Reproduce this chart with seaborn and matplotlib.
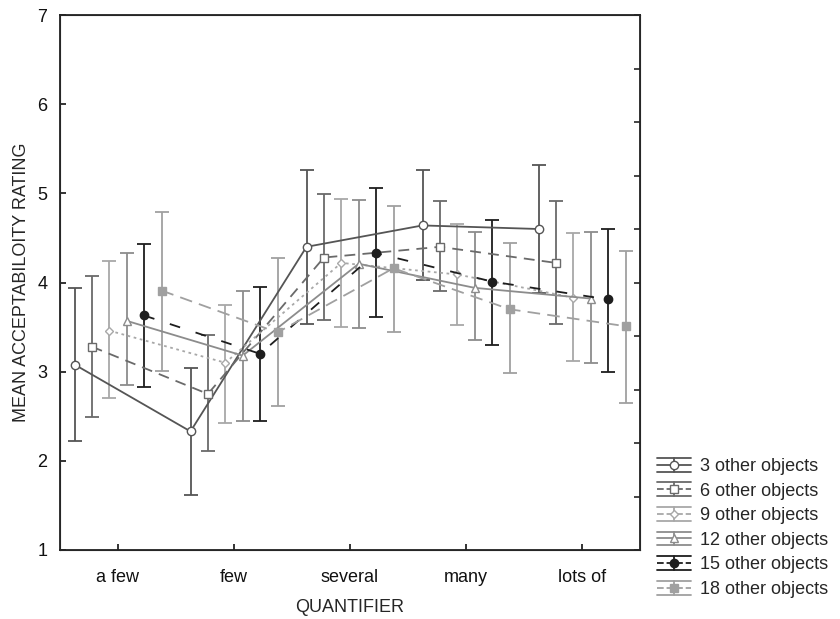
import numpy as np
import pandas as pd
import seaborn as sns
import matplotlib
matplotlib.use("Agg")
import matplotlib.pyplot as plt
from matplotlib.lines import Line2D
from matplotlib.legend_handler import HandlerBase

quantifiers = ["a few", "few", "several", "many", "lots of"]
series_names = ["3 other objects", "6 other objects", "9 other objects",
                "12 other objects", "15 other objects", "18 other objects"]

# means and error bar ends (low, high)
mean_3 = [3.08, 2.33, 4.40, 4.64, 4.60]
low_3 = [2.22, 1.62, 3.53, 4.03, 3.88]
high_3 = [3.94, 3.04, 5.26, 5.26, 5.32]

mean_6 = [3.28, 2.75, 4.28, 4.40, 4.22]
low_6 = [2.49, 2.11, 3.58, 3.90, 3.53]
high_6 = [4.07, 3.41, 4.99, 4.91, 4.91]

mean_9 = [3.46, 3.10, 4.22, 4.09, 3.83]
low_9 = [2.70, 2.42, 3.50, 3.52, 3.12]
high_9 = [4.24, 3.75, 4.94, 4.66, 4.55]

mean_12 = [3.57, 3.18, 4.21, 3.94, 3.82]
low_12 = [2.85, 2.45, 3.49, 3.35, 3.10]
high_12 = [4.33, 3.90, 4.92, 4.57, 4.57]

mean_15 = [3.63, 3.20, 4.33, 4.01, 3.81]
low_15 = [2.83, 2.45, 3.61, 3.30, 3.00]
high_15 = [4.43, 3.95, 5.06, 4.70, 4.60]

mean_18 = [3.91, 3.44, 4.16, 3.70, 3.51]
low_18 = [3.01, 2.61, 3.45, 2.98, 2.65]
high_18 = [4.79, 4.27, 4.86, 4.44, 4.35]

means = [mean_3, mean_6, mean_9, mean_12, mean_15, mean_18]
lows = [low_3, low_6, low_9, low_12, low_15, low_18]
highs = [high_3, high_6, high_9, high_12, high_15, high_18]

# style per series: line colour, dashes, marker, marker face, marker size
styles = [
    dict(color="#555555", ls="-", marker="o", mfc="white", ms=6),
    dict(color="#6a6a6a", ls=(0, (6, 4)), marker="s", mfc="white", ms=6),
    dict(color="#a8a8a8", ls=(0, (1.5, 2)), marker="D", mfc="white", ms=4.5),
    dict(color="#8c8c8c", ls="-", marker="^", mfc="white", ms=6),
    dict(color="#1e1e1e", ls=(0, (6, 9)), marker="o", mfc="#1e1e1e", ms=6),
    dict(color="#a0a0a0", ls=(0, (7, 4)), marker="s", mfc="#a0a0a0", ms=6),
]

rows = []
for i, name in enumerate(series_names):
    for j, q in enumerate(quantifiers):
        rows.append({"series": name, "pos": j + (i - 2.5) * 0.15,
                     "mean": means[i][j], "low": lows[i][j], "high": highs[i][j]})
df = pd.DataFrame(rows)

sns.set_style("white")
plt.rcParams["font.family"] = ["Liberation Sans", "DejaVu Sans"]

fig = plt.figure(figsize=(8.4, 6.19), dpi=100)
ax = fig.add_axes([60 / 840, 1 - 550 / 619, 580 / 840, 535 / 619])

for i, name in enumerate(series_names):
    st = styles[i]
    d = df[df["series"] == name]
    ax.errorbar(d["pos"], d["mean"],
                yerr=[d["mean"] - d["low"], d["high"] - d["mean"]],
                fmt="none", ecolor=st["color"], elinewidth=1.3,
                capsize=5, capthick=1.3, zorder=2)
    sns.lineplot(data=d, x="pos", y="mean", ax=ax, color=st["color"],
                 linestyle=st["ls"], linewidth=1.3, marker=st["marker"],
                 markerfacecolor=st["mfc"], markeredgecolor=st["color"],
                 markersize=st["ms"], markeredgewidth=1, zorder=3,
                 estimator=None, sort=False)

ax.set_xlim(-0.5, 4.5)
ax.set_ylim(1, 7)
ax.set_xticks(range(len(quantifiers)))
ax.set_xticklabels(quantifiers)
ax.set_yticks(range(1, 8))
ax.set_xlabel("QUANTIFIER", fontsize=13, labelpad=9)
ax.set_ylabel("MEAN ACCEPTABILOITY RATING", fontsize=13, labelpad=5)
ax.tick_params(axis="both", direction="in", length=4, width=1.2,
               labelsize=13, colors="#111111", left=True, bottom=True)
ax.tick_params(axis="x", pad=14)
ax.tick_params(axis="y", pad=9)
for s in ax.spines.values():
    s.set_color("#222222")
    s.set_linewidth(1.3)

# right side has ten unlabelled tick intervals
ax2 = ax.twinx()
ax2.set_ylim(0, 10)
ax2.set_yticks(range(11))
ax2.tick_params(axis="y", direction="in", length=4, width=1.2,
                labelright=False, right=True)
ax2.grid(False)
ax.grid(False)


class ErrHandler(HandlerBase):
    def create_artists(self, legend, orig_handle, xdescent, ydescent,
                       width, height, fontsize, trans):
        c = orig_handle.get_color()
        y = height / 2 - ydescent
        x0, x1 = -xdescent, width - xdescent
        xm = (x0 + x1) / 2
        h = height * 0.55
        top = Line2D([x0, x1], [y + h, y + h], color=c, lw=1.3)
        bot = Line2D([x0, x1], [y - h, y - h], color=c, lw=1.3)
        vert = Line2D([xm, xm], [y - h, y + h], color=c, lw=1.3)
        mid = Line2D([x0, xm, x1], [y, y, y], color=c, lw=1.3,
                     linestyle=orig_handle.get_linestyle(),
                     marker=orig_handle.get_marker(),
                     markerfacecolor=orig_handle.get_markerfacecolor(),
                     markeredgecolor=c, markersize=orig_handle.get_markersize(),
                     markevery=[1])
        arts = [top, bot, vert, mid]
        for a in arts:
            a.set_transform(trans)
        return arts


handles = []
for i, name in enumerate(series_names):
    st = styles[i]
    handles.append(Line2D([], [], color=st["color"], linestyle=st["ls"],
                          marker=st["marker"], markerfacecolor=st["mfc"],
                          markersize=st["ms"]))
fig.legend(handles, series_names, loc="center left",
           bbox_to_anchor=(644 / 840, 1 - 528 / 619), frameon=False,
           fontsize=13, handler_map={Line2D: ErrHandler()},
           handlelength=1.9, labelspacing=0.42, handletextpad=0.5,
           borderpad=0.2)

plt.savefig("out.png", dpi=100)
